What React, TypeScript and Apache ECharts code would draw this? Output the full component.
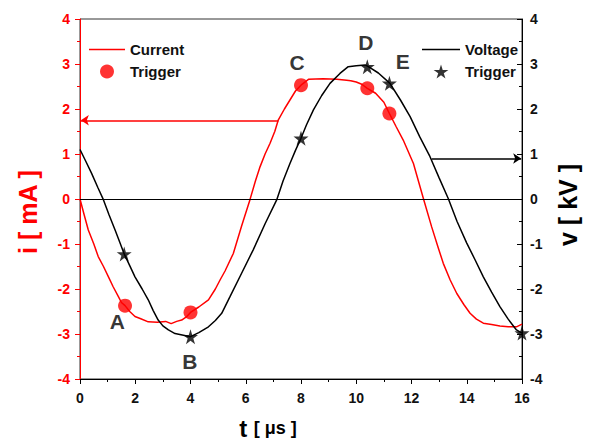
import React, { useEffect, useRef } from "react";
import * as echarts from "echarts";

// time [µs], current [mA]
const currentData: number[][] = [
  [0, 0], [0.15, -0.35], [0.3, -0.69], [0.5, -1.0], [0.66, -1.28], [0.85, -1.5], [1.03, -1.73],
  [1.2, -1.95], [1.39, -2.17], [1.5, -2.3], [1.63, -2.37], [1.8, -2.5], [1.99, -2.61], [2.2, -2.66],
  [2.47, -2.73], [2.8, -2.74], [3.1, -2.72], [3.3, -2.77], [3.5, -2.72], [3.68, -2.69], [3.85, -2.62],
  [4.0, -2.52], [4.3, -2.4], [4.65, -2.24], [4.9, -2.0], [5.07, -1.8], [5.25, -1.6], [5.55, -1.21],
  [5.85, -0.6], [6.15, -0.02], [6.35, 0.4], [6.52, 0.72], [6.7, 1.0], [6.88, 1.24], [7.05, 1.5],
  [7.18, 1.76], [7.4, 2.0], [7.6, 2.2], [7.8, 2.4], [8.0, 2.53], [8.27, 2.66], [8.8, 2.67],
  [9.3, 2.66], [9.65, 2.64], [9.8, 2.63], [10.0, 2.6], [10.2, 2.55], [10.4, 2.46], [10.7, 2.35],
  [11.0, 2.15], [11.2, 1.9], [11.45, 1.6], [11.7, 1.31], [12.07, 0.79], [12.25, 0.4], [12.43, 0.01],
  [12.73, -0.62], [12.95, -1.05], [13.15, -1.43], [13.4, -1.8], [13.64, -2.1], [13.9, -2.35],
  [14.12, -2.54], [14.35, -2.67], [14.6, -2.76], [14.9, -2.79], [15.2, -2.82], [15.5, -2.84],
  [15.8, -2.84], [16, -2.78],
];

// time [µs], voltage [kV]
const voltageData: number[][] = [
  [0, 1.1], [0.2, 0.85], [0.42, 0.57], [0.65, 0.25], [0.85, -0.02], [1.05, -0.35], [1.27, -0.69],
  [1.45, -0.98], [1.6, -1.22], [1.8, -1.48], [1.99, -1.73], [2.25, -2.0], [2.47, -2.24], [2.65, -2.48],
  [2.83, -2.69], [3.0, -2.82], [3.2, -2.91], [3.44, -2.99], [3.7, -3.02], [4.0, -3.06], [4.3, -2.97],
  [4.65, -2.84], [4.9, -2.7], [5.13, -2.54], [5.43, -2.17], [5.85, -1.65], [6.27, -1.13], [6.7, -0.55],
  [7.12, -0.02], [7.35, 0.4], [7.6, 0.79], [7.8, 1.08], [8.0, 1.35], [8.2, 1.65], [8.45, 1.98],
  [8.75, 2.3], [9.05, 2.57], [9.41, 2.79], [9.71, 2.94], [10.0, 2.96], [10.32, 2.98], [10.44, 2.94],
  [10.8, 2.8], [11.22, 2.57], [11.6, 2.2], [11.95, 1.83], [12.3, 1.38], [12.67, 0.94], [13.0, 0.47],
  [13.33, 0.01], [13.65, -0.5], [14.0, -0.98], [14.3, -1.35], [14.6, -1.73], [14.9, -2.07],
  [15.2, -2.39], [15.5, -2.67], [15.8, -2.91], [16, -2.98],
];

const currentTriggers: number[][] = [[1.63, -2.37], [4.0, -2.52], [8.0, 2.53], [10.4, 2.46], [11.2, 1.9]];
const voltageTriggers: number[][] = [[1.6, -1.22], [4.0, -3.06], [8.0, 1.35], [10.4, 2.94], [11.2, 2.57], [16, -2.98]];

const letterNames = ["A", "B", "C", "D", "E"];
const letterT = [1.35, 3.98, 7.86, 10.35, 11.68];
const letterV = [-2.73, -3.62, 3.04, 3.47, 3.05];

const currentArrow = { from: [7.18, 1.75], to: [0.03, 1.75] };
const voltageArrow = { from: [12.73, 0.9], to: [15.97, 0.9] };

const xTicks = [0, 16, 2];
const yTicks = [-4, 4, 1];

const STAR = "path://M50,0 L61,35 98,35 68,57 79,91 50,70 21,91 32,57 2,35 39,35 Z";
const LINE_ICON = "path://M0,0 L36,0 L36,1.6 L0,1.6 Z";
const FONT = "'Liberation Sans', Arial, sans-serif";
const RED = "#ff0000";

export default function App() {
  const ref = useRef<HTMLDivElement>(null);
  useEffect(() => {
    if (!ref.current) return;
    document.body.style.margin = "0";
    const chart = echarts.init(ref.current, null, { renderer: "svg" });
    const axisLabel = (color: string) => ({ color, fontFamily: FONT, fontWeight: "bold" as const, fontSize: 14 });
    chart.setOption({
      animation: false,
      backgroundColor: "#fff",
      grid: { left: 80, right: 67, top: 19, bottom: 64, show: true, borderColor: "#333", borderWidth: 1 },
      legend: [
        {
          orient: "vertical", left: 84, top: 37, itemWidth: 36, itemHeight: 14, itemGap: 7,
          data: [{ name: "Current", icon: LINE_ICON }, { name: "Trigger" }],
          formatter: (n: string) => n.trim(),
          textStyle: { fontFamily: FONT, fontWeight: "bold", fontSize: 15, color: "#111" },
        },
        {
          orient: "vertical", left: 417, top: 37, itemWidth: 38, itemHeight: 14, itemGap: 7,
          data: [{ name: "Voltage", icon: LINE_ICON }, { name: "Trigger " }],
          formatter: (n: string) => n.trim(),
          textStyle: { fontFamily: FONT, fontWeight: "bold", fontSize: 15, color: "#111" },
        },
      ],
      xAxis: {
        type: "value", min: xTicks[0], max: xTicks[1], interval: xTicks[2],
        axisLine: { onZero: false, lineStyle: { color: "#000", width: 1 } },
        axisTick: { length: 5, lineStyle: { color: "#000" } },
        minorTick: { show: true, splitNumber: 2, length: 3, lineStyle: { color: "#000" } },
        splitLine: { show: false },
        axisLabel: { ...axisLabel("#111"), margin: 12 },
      },
      yAxis: [
        {
          type: "value", position: "left", min: yTicks[0], max: yTicks[1], interval: yTicks[2],
          axisLine: { show: true, onZero: false, lineStyle: { color: RED, width: 1 } },
          axisTick: { show: true, length: 5, lineStyle: { color: RED } },
          minorTick: { show: true, splitNumber: 2, length: 3, lineStyle: { color: RED } },
          splitLine: { show: false },
          axisLabel: { ...axisLabel(RED), margin: 10 },
        },
        {
          type: "value", position: "right", min: yTicks[0], max: yTicks[1], interval: yTicks[2],
          axisLine: { show: true, onZero: false, lineStyle: { color: "#000", width: 1 } },
          axisTick: { show: true, inside: true, length: 5, lineStyle: { color: "#000" } },
          minorTick: { show: true, splitNumber: 2, length: 3, lineStyle: { color: "#000" } },
          splitLine: { show: false },
          axisLabel: { ...axisLabel("#111"), margin: 8 },
        },
      ],
      graphic: [
        {
          type: "text", x: 28, y: 212, rotation: Math.PI / 2,
          style: { text: "i [ mA ]", fill: RED, font: `bold 25px ${FONT}`, align: "center", verticalAlign: "middle" },
        },
        {
          type: "text", x: 568, y: 205, rotation: Math.PI / 2,
          style: { text: "v [ kV ]", fill: "#000", font: `bold 25px ${FONT}`, align: "center", verticalAlign: "middle" },
        },
        {
          type: "text", x: 268, y: 428,
          style: {
            text: "{t|t}  {b|[ μs ]}", align: "center", verticalAlign: "middle",
            rich: {
              t: { font: `bold 24px ${FONT}`, fill: "#000" },
              b: { font: `bold 18px ${FONT}`, fill: "#000" },
            },
          },
        },
      ],
      series: [
        {
          name: "zero", type: "line", data: [], silent: true,
          markLine: {
            silent: true, symbol: "none", label: { show: false },
            lineStyle: { color: "#000", width: 1, type: "solid" },
            data: [{ yAxis: 0 }],
          },
        },
        {
          name: "Current", type: "line", data: currentData, yAxisIndex: 0, symbol: "none",
          lineStyle: { color: RED, width: 1.5 }, itemStyle: { color: RED }, z: 3,
          markLine: {
            silent: true, symbol: ["none", "arrow"], symbolSize: 8, label: { show: false },
            lineStyle: { color: RED, width: 1.5, type: "solid" },
            data: [[{ coord: currentArrow.from }, { coord: currentArrow.to }]],
          },
        },
        {
          name: "Voltage", type: "line", data: voltageData, yAxisIndex: 1, symbol: "none",
          lineStyle: { color: "#000", width: 1.5 }, itemStyle: { color: "#000" }, z: 3,
          markLine: {
            silent: true, symbol: ["none", "arrow"], symbolSize: 8, label: { show: false },
            lineStyle: { color: "#000", width: 1.5, type: "solid" },
            data: [[{ coord: voltageArrow.from }, { coord: voltageArrow.to }]],
          },
        },
        {
          name: "Trigger", type: "scatter", data: currentTriggers, yAxisIndex: 0,
          symbol: "circle", symbolSize: 14, itemStyle: { color: RED }, z: 5,
        },
        {
          name: "Trigger ", type: "scatter", data: voltageTriggers, yAxisIndex: 1,
          symbol: STAR, symbolSize: 15, itemStyle: { color: "#000" }, z: 5,
        },
        {
          name: "letters", type: "scatter", yAxisIndex: 0, symbolSize: 0, silent: true,
          data: letterNames.map((n, i) => ({ name: n, value: [letterT[i], letterV[i]] })),
          label: {
            show: true, position: "inside", formatter: (p: any) => p.name,
            fontFamily: FONT, fontWeight: "bold", fontSize: 21, color: "#000",
          },
        },
      ],
    });
    return () => chart.dispose();
  }, []);
  return <div ref={ref} style={{ width: 589, height: 443 }} />;
}
